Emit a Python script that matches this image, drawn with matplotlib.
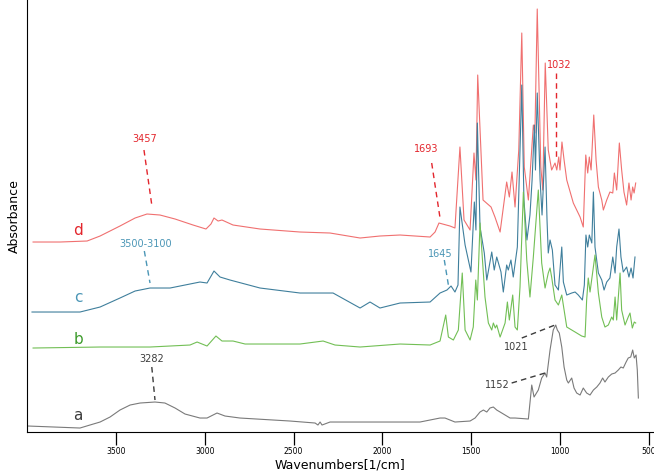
import numpy as np
from matplotlib import pyplot as plt

# spectrum d (red)
wn_d = [3966, 3814, 3662, 3589, 3477, 3392, 3325, 3252, 3167, 3066, 2993, 2965, 2948, 2925, 2903,
        2841, 2689, 2464, 2295, 2126, 2014, 1901, 1732, 1704, 1682, 1620, 1592, 1564, 1541, 1507,
        1485, 1474, 1464, 1434, 1389, 1367, 1338, 1301, 1286, 1271, 1254, 1233, 1216, 1202, 1179,
        1151, 1142, 1129, 1109, 1098, 1084, 1067, 1048, 1029, 1019, 1008, 1001, 990, 978, 963,
        926, 888, 870, 856, 845, 836, 826, 811, 798, 785, 766, 757, 738, 720, 704,
        695, 682, 667, 654, 641, 626, 613, 601, 592, 584, 575]
abs_d = [1.90, 1.90, 1.91, 1.96, 2.06, 2.14, 2.18, 2.17, 2.13, 2.07, 2.03, 2.08, 2.14, 2.11, 2.12,
         2.07, 2.03, 2.00, 1.99, 1.94, 1.96, 1.97, 1.95, 2.00, 2.09, 2.06, 2.04, 2.85, 2.12, 2.02,
         2.79, 2.52, 3.57, 2.32, 2.25, 2.15, 2.00, 2.50, 2.35, 2.60, 2.25, 2.82, 3.99, 2.65, 2.32,
         3.07, 2.99, 4.23, 2.65, 2.42, 3.69, 2.82, 2.62, 2.69, 2.62, 2.75, 2.62, 2.90, 2.72, 2.52,
         2.29, 2.15, 2.05, 2.77, 2.59, 2.75, 2.62, 3.17, 2.72, 2.45, 2.32, 2.22, 2.32, 2.40, 2.39,
         2.59, 2.42, 2.89, 2.62, 2.40, 2.27, 2.49, 2.32, 2.45, 2.39, 2.49]

# spectrum c (blue)
wn_c = [3972, 3702, 3589, 3477, 3392, 3308, 3195, 3083, 3027, 2987, 2948, 2914, 2858, 2689, 2464,
        2278, 2126, 2070, 2014, 1901, 1732, 1676, 1637, 1614, 1592, 1575, 1564, 1535, 1502, 1483,
        1474, 1466, 1451, 1427, 1413, 1385, 1371, 1357, 1333, 1320, 1301, 1292, 1277, 1264, 1241,
        1216, 1204, 1187, 1170, 1158, 1145, 1139, 1129, 1113, 1102, 1085, 1074, 1067, 1057, 1044,
        1029, 1010, 991, 982, 963, 935, 916, 898, 875, 864, 855, 845, 836, 822, 813,
        804, 785, 766, 753, 738, 720, 704, 691, 682, 669, 658, 645, 626, 613, 601, 590, 579]
abs_c = [1.20, 1.20, 1.25, 1.34, 1.41, 1.44, 1.44, 1.48, 1.50, 1.49, 1.61, 1.55, 1.52, 1.44, 1.39,
         1.39, 1.24, 1.30, 1.24, 1.29, 1.30, 1.39, 1.42, 1.46, 1.40, 1.47, 2.25, 1.87, 1.60, 2.30,
         2.02, 3.09, 2.05, 1.79, 1.52, 1.80, 1.62, 1.75, 1.60, 1.40, 1.67, 1.62, 1.72, 1.55, 1.85,
         3.47, 2.32, 1.92, 2.17, 2.52, 3.07, 2.62, 3.39, 2.52, 2.17, 2.85, 2.12, 1.79, 1.92, 1.82,
         1.47, 1.42, 1.85, 1.50, 1.37, 1.39, 1.40, 1.37, 1.32, 1.47, 1.97, 1.85, 1.97, 1.89, 2.40,
         1.85, 1.59, 1.52, 1.42, 1.50, 1.54, 1.75, 1.59, 1.85, 2.03, 1.75, 1.60, 1.65, 1.55, 1.64, 1.54, 1.75]

# spectrum b (green)
wn_b = [3966, 3589, 3308, 3083, 3043, 2987, 2937, 2903, 2841, 2773, 2464, 2334, 2267, 2126, 1901,
        1732, 1676, 1644, 1629, 1601, 1573, 1551, 1535, 1507, 1489, 1475, 1466, 1451, 1441, 1423,
        1404, 1385, 1376, 1365, 1357, 1338, 1310, 1297, 1286, 1267, 1254, 1241, 1226, 1207, 1188,
        1170, 1151, 1123, 1104, 1085, 1067, 1057, 1048, 1029, 1010, 991, 963, 916, 879, 860,
        851, 842, 832, 804, 785, 766, 748, 729, 710, 701, 691, 682, 663, 654, 635,
        617, 607, 594, 583, 575]
abs_b = [0.84, 0.85, 0.85, 0.87, 0.90, 0.86, 0.96, 0.91, 0.91, 0.88, 0.88, 0.91, 0.87, 0.85, 0.88,
         0.87, 0.91, 1.17, 0.95, 0.92, 1.02, 1.59, 1.02, 0.92, 1.05, 1.52, 1.32, 2.09, 1.82, 1.35,
         1.09, 1.02, 1.09, 1.04, 1.07, 0.95, 1.09, 1.30, 1.12, 1.37, 1.05, 1.02, 1.45, 2.40, 1.72,
         1.35, 1.75, 2.42, 1.69, 1.44, 1.59, 1.64, 1.55, 1.32, 1.27, 1.37, 1.05, 1.00, 0.96, 0.95,
         1.32, 1.54, 1.40, 1.77, 1.39, 1.15, 1.05, 1.07, 1.15, 1.12, 1.35, 1.12, 1.59, 1.22, 1.07,
         1.15, 1.19, 1.04, 1.10, 1.09]

# spectrum a (gray)
wn_a = [3994, 3702, 3646, 3589, 3533, 3477, 3420, 3364, 3280, 3224, 3167, 3111, 3027, 2987, 2931,
        2886, 2802, 2520, 2379, 2363, 2351, 2340, 2295, 2014, 1789, 1676, 1648, 1592, 1507, 1479,
        1451, 1432, 1413, 1395, 1376, 1357, 1338, 1310, 1282, 1254, 1179, 1160, 1147, 1123, 1104,
        1085, 1076, 1057, 1039, 1025, 1016, 1005, 991, 978, 963, 954, 935, 922, 907, 888,
        870, 851, 832, 813, 794, 776, 761, 748, 729, 710, 691, 673, 658, 645, 629,
        617, 603, 592, 583, 573, 566, 560]
abs_a = [0.06, 0.04, 0.07, 0.10, 0.15, 0.22, 0.27, 0.29, 0.30, 0.29, 0.24, 0.18, 0.14, 0.14, 0.19,
         0.16, 0.14, 0.11, 0.09, 0.07, 0.10, 0.07, 0.10, 0.10, 0.10, 0.14, 0.14, 0.10, 0.11, 0.14,
         0.20, 0.22, 0.20, 0.24, 0.25, 0.22, 0.20, 0.17, 0.14, 0.14, 0.13, 0.47, 0.35, 0.42, 0.54,
         0.59, 0.55, 0.82, 1.02, 1.07, 1.02, 0.99, 0.85, 0.65, 0.52, 0.49, 0.54, 0.44, 0.39, 0.37,
         0.44, 0.39, 0.37, 0.42, 0.45, 0.49, 0.54, 0.50, 0.55, 0.58, 0.59, 0.62, 0.65, 0.64, 0.70,
         0.74, 0.75, 0.82, 0.74, 0.77, 0.62, 0.34]

tick_vals = [3500, 3000, 2500, 2000, 1500, 1000, 500]

red_line, red_txt = '#f07070', '#e3262d'
blue_line, blue_txt = '#3f7f9c', '#4b96b6'
green_line, green_txt = '#72bf55', '#3d9b2c'
gray_line, gray_txt = '#7a7a7a', '#3c3c3c'

fig = plt.figure(figsize=(6.54, 4.72), dpi=100)
ax = fig.add_axes([0.0408, 0.0847, 0.9592, 0.9153])

ax.plot(wn_d, abs_d, color=red_line, lw=0.8)
ax.plot(wn_c, abs_c, color=blue_line, lw=0.8)
ax.plot(wn_b, abs_b, color=green_line, lw=0.8)
ax.plot(wn_a, abs_a, color=gray_line, lw=0.8)

ax.set_xlim(4002, 472)
ax.set_ylim(0, 4.32)

# peak annotations
dash = (0, (4, 3))
def mark(txt, tx, ty, x0, y0, x1, y1, c, lc):
    ax.text(tx, ty, txt, color=c, fontsize=7, ha='center', va='center')
    ax.plot([x0, x1], [y0, y1], color=lc, lw=1.0, linestyle=dash)

mark('3457', 3336, 2.93, 3342, 2.82, 3298, 2.27, red_txt, red_txt)
mark('3500-3100', 3330, 1.88, 3340, 1.81, 3308, 1.49, blue_txt, blue_txt)
mark('3282', 3297, 0.73, 3298, 0.65, 3280, 0.32, gray_txt, gray_txt)
mark('1693', 1755, 2.83, 1723, 2.69, 1676, 2.14, red_txt, red_txt)
mark('1645', 1676, 1.78, 1652, 1.72, 1629, 1.47, blue_txt, blue_txt)
mark('1032', 1003, 3.67, 1023, 3.59, 1023, 2.75, red_txt, red_txt)
mark('1021', 1247, 0.85, 1216, 0.94, 1029, 1.07, gray_txt, gray_txt)
mark('1152', 1351, 0.47, 1273, 0.49, 1085, 0.59, gray_txt, gray_txt)

# series letters
ax.text(3713, 2.02, 'd', color=red_txt, fontsize=11, ha='center', va='center')
ax.text(3713, 1.35, 'c', color=blue_txt, fontsize=11, ha='center', va='center')
ax.text(3713, 0.93, 'b', color=green_txt, fontsize=11, ha='center', va='center')
ax.text(3713, 0.17, 'a', color=gray_txt, fontsize=11, ha='center', va='center')

ax.set_xticks(tick_vals)
ax.set_xticklabels([str(t) for t in tick_vals], fontsize=5.5)
ax.tick_params(axis='x', length=9, width=0.9, pad=2)
ax.set_yticks([])
ax.spines['top'].set_visible(False)
ax.spines['right'].set_visible(False)
ax.set_xlabel('Wavenumbers[1/cm]', fontsize=9)
ax.xaxis.set_label_coords(0.5, -0.062)
ax.set_ylabel('Absorbance', fontsize=9, labelpad=4)

plt.savefig('out.png', dpi=100)
